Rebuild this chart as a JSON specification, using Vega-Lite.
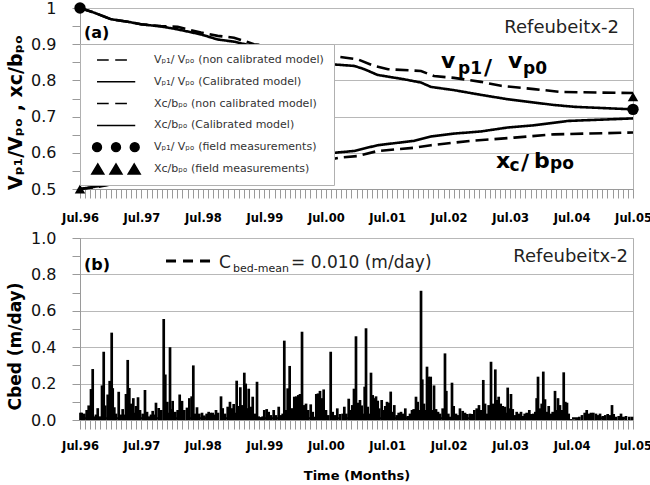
{
  "$schema": "https://vega.github.io/schema/vega-lite/v6.json",
  "padding": {"left": 6, "top": -1, "right": 0, "bottom": 0},
  "config": {
    "font": "DejaVu Sans",
    "view": {"stroke": "#b0b0b0"},
    "axis": {"domainColor": "#9a9a9a", "tickColor": "#9a9a9a", "gridColor": "#b8b8b8", "labelColor": "#111111", "titleColor": "#000000", "labelOverlap": false}
  },
  "datasets": {
    "lines": [
      {"s":"Vnc","m":0,"v":1.0},{"s":"Vnc","m":2.79,"v":0.987},{"s":"Vnc","m":6.05,"v":0.969},{"s":"Vnc","m":9.32,"v":0.962},{"s":"Vnc","m":11.91,"v":0.955},{"s":"Vnc","m":15.82,"v":0.95},{"s":"Vnc","m":19.08,"v":0.948},{"s":"Vnc","m":23.63,"v":0.932},{"s":"Vnc","m":26.89,"v":0.923},{"s":"Vnc","m":30.08,"v":0.918},{"s":"Vnc","m":33.98,"v":0.90},{"s":"Vnc","m":39.84,"v":0.89},{"s":"Vnc","m":47.07,"v":0.872},{"s":"Vnc","m":49.61,"v":0.867},{"s":"Vnc","m":54.29,"v":0.858},{"s":"Vnc","m":57.42,"v":0.84},{"s":"Vnc","m":60.15,"v":0.831},{"s":"Vnc","m":66.6,"v":0.826},{"s":"Vnc","m":69.14,"v":0.812},{"s":"Vnc","m":73.04,"v":0.807},{"s":"Vnc","m":78.31,"v":0.796},{"s":"Vnc","m":82.22,"v":0.785},{"s":"Vnc","m":88.67,"v":0.776},{"s":"Vnc","m":93.94,"v":0.768},{"s":"Vnc","m":108,"v":0.765},
      {"s":"Vc","m":0,"v":1.0},{"s":"Vc","m":2.79,"v":0.987},{"s":"Vc","m":6.05,"v":0.969},{"s":"Vc","m":9.32,"v":0.962},{"s":"Vc","m":11.91,"v":0.955},{"s":"Vc","m":15.82,"v":0.949},{"s":"Vc","m":19.08,"v":0.941},{"s":"Vc","m":23.63,"v":0.927},{"s":"Vc","m":26.89,"v":0.913},{"s":"Vc","m":30.08,"v":0.907},{"s":"Vc","m":39.84,"v":0.875},{"s":"Vc","m":49.67,"v":0.844},{"s":"Vc","m":53.57,"v":0.84},{"s":"Vc","m":55.52,"v":0.831},{"s":"Vc","m":58.14,"v":0.815},{"s":"Vc","m":63.34,"v":0.803},{"s":"Vc","m":66.6,"v":0.794},{"s":"Vc","m":68.55,"v":0.782},{"s":"Vc","m":73.1,"v":0.773},{"s":"Vc","m":78.31,"v":0.76},{"s":"Vc","m":83.53,"v":0.748},{"s":"Vc","m":87.43,"v":0.741},{"s":"Vc","m":92.63,"v":0.732},{"s":"Vc","m":96.54,"v":0.727},{"s":"Vc","m":108,"v":0.72},
      {"s":"Xnc","m":0,"v":0.5},{"s":"Xnc","m":3.46,"v":0.506},{"s":"Xnc","m":6.7,"v":0.515},{"s":"Xnc","m":9.96,"v":0.522},{"s":"Xnc","m":15.17,"v":0.531},{"s":"Xnc","m":21.03,"v":0.54},{"s":"Xnc","m":26.89,"v":0.548},{"s":"Xnc","m":34.04,"v":0.554},{"s":"Xnc","m":41.21,"v":0.561},{"s":"Xnc","m":47.07,"v":0.577},{"s":"Xnc","m":50.97,"v":0.587},{"s":"Xnc","m":54.23,"v":0.591},{"s":"Xnc","m":58.14,"v":0.605},{"s":"Xnc","m":65.29,"v":0.614},{"s":"Xnc","m":68.55,"v":0.621},{"s":"Xnc","m":76.36,"v":0.633},{"s":"Xnc","m":84.82,"v":0.642},{"s":"Xnc","m":92.57,"v":0.651},{"s":"Xnc","m":108,"v":0.656},
      {"s":"Xc","m":0,"v":0.5},{"s":"Xc","m":13.87,"v":0.53},{"s":"Xc","m":33.4,"v":0.57},{"s":"Xc","m":49.61,"v":0.6},{"s":"Xc","m":53.51,"v":0.605},{"s":"Xc","m":58.14,"v":0.621},{"s":"Xc","m":65.23,"v":0.633},{"s":"Xc","m":68.55,"v":0.645},{"s":"Xc","m":73.04,"v":0.653},{"s":"Xc","m":78.31,"v":0.659},{"s":"Xc","m":83.59,"v":0.67},{"s":"Xc","m":88.67,"v":0.676},{"s":"Xc","m":95.31,"v":0.688},{"s":"Xc","m":108,"v":0.695}
    ],
    "cbed": [
      {"m":0.1,"c":0.04},{"m":0.33,"c":0.04},{"m":0.84,"c":0.035},{"m":1.31,"c":0.055},{"m":1.7,"c":0.08},{"m":2.15,"c":0.17},{"m":2.48,"c":0.28},{"m":2.79,"c":0.02},{"m":3.12,"c":0.03},{"m":3.46,"c":0.065},{"m":3.85,"c":0.02},{"m":4.3,"c":0.19},{"m":4.63,"c":0.375},{"m":4.94,"c":0.08},{"m":5.41,"c":0.14},{"m":5.8,"c":0.215},{"m":6.19,"c":0.48},{"m":6.39,"c":0.175},{"m":6.7,"c":0.07},{"m":7.03,"c":0.035},{"m":7.56,"c":0.155},{"m":8.01,"c":0.03},{"m":8.34,"c":0.06},{"m":8.65,"c":0.03},{"m":8.98,"c":0.143},{"m":9.32,"c":0.33},{"m":9.63,"c":0.176},{"m":9.96,"c":0.09},{"m":10.41,"c":0.12},{"m":10.68,"c":0.04},{"m":10.94,"c":0.077},{"m":11.33,"c":0.125},{"m":11.72,"c":0.055},{"m":12.25,"c":0.035},{"m":12.69,"c":0.165},{"m":13.09,"c":0.045},{"m":13.53,"c":0.02},{"m":13.87,"c":0.03},{"m":14.2,"c":0.05},{"m":14.51,"c":0.03},{"m":14.84,"c":0.095},{"m":15.37,"c":0.066},{"m":15.88,"c":0.055},{"m":16.35,"c":0.555},{"m":16.66,"c":0.25},{"m":17.05,"c":0.1},{"m":17.32,"c":0.04},{"m":17.58,"c":0.4},{"m":17.83,"c":0.06},{"m":18.1,"c":0.105},{"m":18.61,"c":0.045},{"m":19.08,"c":0.055},{"m":19.47,"c":0.14},{"m":19.92,"c":0.105},{"m":20.37,"c":0.055},{"m":20.9,"c":0.068},{"m":21.35,"c":0.12},{"m":21.81,"c":0.13},{"m":22.13,"c":0.3},{"m":22.52,"c":0.035},{"m":22.85,"c":0.07},{"m":23.3,"c":0.035},{"m":23.83,"c":0.04},{"m":24.28,"c":0.025},{"m":24.74,"c":0.035},{"m":25.13,"c":0.045},{"m":25.53,"c":0.04},{"m":25.92,"c":0.04},{"m":26.23,"c":0.03},{"m":26.56,"c":0.055},{"m":26.95,"c":0.04},
      {"m":27.54,"c":0.13},{"m":27.87,"c":0.065},{"m":28.32,"c":0.035},{"m":28.85,"c":0.073},{"m":29.29,"c":0.1},{"m":29.69,"c":0.065},{"m":30.02,"c":0.088},{"m":30.33,"c":0.04},{"m":30.6,"c":0.216},{"m":30.92,"c":0.077},{"m":31.31,"c":0.18},{"m":31.64,"c":0.082},{"m":32.09,"c":0.26},{"m":32.36,"c":0.2},{"m":32.61,"c":0.065},{"m":32.95,"c":0.172},{"m":33.34,"c":0.073},{"m":33.73,"c":0.128},{"m":34.12,"c":0.035},{"m":34.57,"c":0.21},{"m":34.9,"c":0.02},{"m":35.29,"c":0.015},{"m":35.68,"c":0.02},{"m":35.99,"c":0.055},{"m":36.46,"c":0.06},{"m":36.85,"c":0.045},{"m":37.3,"c":0.027},{"m":37.83,"c":0.055},{"m":38.28,"c":0.027},{"m":38.81,"c":0.073},{"m":39.25,"c":0.027},{"m":39.59,"c":0.035},{"m":39.9,"c":0.436},{"m":40.23,"c":0.055},{"m":40.56,"c":0.174},{"m":40.95,"c":0.297},{"m":41.34,"c":0.065},{"m":41.85,"c":0.128},{"m":42.24,"c":0.13},{"m":42.63,"c":0.137},{"m":42.97,"c":0.143},{"m":43.36,"c":0.485},{"m":43.75,"c":0.082},{"m":44.14,"c":0.09},{"m":44.53,"c":0.055},{"m":45.06,"c":0.086},{"m":45.45,"c":0.045},{"m":45.76,"c":0.018},{"m":46.15,"c":0.143},{"m":46.48,"c":0.146},{"m":46.87,"c":0.16},{"m":47.2,"c":0.12},{"m":47.59,"c":0.168},{"m":48.04,"c":0.055},{"m":48.49,"c":0.027},{"m":48.96,"c":0.375},{"m":49.35,"c":0.045},{"m":49.8,"c":0.027},{"m":50.25,"c":0.064},{"m":50.78,"c":0.033},{"m":51.3,"c":0.035},{"m":51.62,"c":0.073},{"m":52.01,"c":0.035},{"m":52.48,"c":0.117},{"m":52.87,"c":0.055},{"m":53.18,"c":0.082},{"m":53.51,"c":0.172},{"m":53.9,"c":0.46},{"m":54.29,"c":0.095},{"m":54.68,"c":0.11},
      {"m":55.01,"c":0.08},{"m":55.33,"c":0.035},{"m":55.6,"c":0.183},{"m":55.86,"c":0.504},{"m":56.19,"c":0.073},{"m":56.5,"c":0.035},{"m":56.83,"c":0.26},{"m":57.16,"c":0.137},{"m":57.48,"c":0.12},{"m":57.81,"c":0.13},{"m":58.14,"c":0.106},{"m":58.45,"c":0.064},{"m":58.92,"c":0.11},{"m":59.23,"c":0.055},{"m":59.62,"c":0.077},{"m":59.96,"c":0.1},{"m":60.29,"c":0.095},{"m":60.68,"c":0.156},{"m":61.07,"c":0.045},{"m":61.38,"c":0.082},{"m":61.85,"c":0.027},{"m":62.24,"c":0.04},{"m":62.69,"c":0.045},{"m":63.14,"c":0.035},{"m":63.53,"c":0.064},{"m":64.0,"c":0.022},{"m":64.45,"c":0.035},{"m":64.84,"c":0.055},{"m":65.17,"c":0.06},{"m":65.62,"c":0.128},{"m":65.95,"c":0.1},{"m":66.26,"c":0.055},{"m":66.6,"c":0.71},{"m":66.85,"c":0.223},{"m":67.18,"c":0.09},{"m":67.44,"c":0.055},{"m":67.77,"c":0.293},{"m":68.1,"c":0.238},{"m":68.49,"c":0.238},{"m":68.8,"c":0.055},{"m":69.14,"c":0.19},{"m":69.53,"c":0.06},{"m":69.92,"c":0.045},{"m":70.31,"c":0.035},{"m":70.83,"c":0.064},{"m":71.28,"c":0.366},{"m":71.54,"c":0.16},{"m":71.93,"c":0.035},{"m":72.26,"c":0.018},{"m":72.65,"c":0.205},{"m":72.98,"c":0.077},{"m":73.43,"c":0.035},{"m":73.82,"c":0.027},{"m":74.21,"c":0.064},{"m":74.74,"c":0.05},{"m":75.19,"c":0.04},{"m":75.64,"c":0.033},{"m":76.17,"c":0.035},{"m":76.56,"c":0.033},{"m":77.01,"c":0.055},{"m":77.48,"c":0.064},{"m":77.92,"c":0.082},{"m":78.31,"c":0.055},{"m":78.76,"c":0.22},{"m":79.1,"c":0.09},{"m":79.49,"c":0.035},{"m":79.82,"c":0.082},{"m":80.27,"c":0.32},{"m":80.66,"c":0.09},{"m":81.11,"c":0.278},{"m":81.38,"c":0.11},{"m":81.77,"c":0.128},
      {"m":82.16,"c":0.09},{"m":82.55,"c":0.077},{"m":83.0,"c":0.073},{"m":83.26,"c":0.04},{"m":83.53,"c":0.178},{"m":83.84,"c":0.064},{"m":84.17,"c":0.143},{"m":84.51,"c":0.06},{"m":84.9,"c":0.027},{"m":85.29,"c":0.045},{"m":85.68,"c":0.035},{"m":86.13,"c":0.045},{"m":86.46,"c":0.022},{"m":86.85,"c":0.035},{"m":87.24,"c":0.04},{"m":87.75,"c":0.055},{"m":88.14,"c":0.033},{"m":88.53,"c":0.035},{"m":88.92,"c":0.045},{"m":89.19,"c":0.12},{"m":89.45,"c":0.238},{"m":89.78,"c":0.064},{"m":90.17,"c":0.09},{"m":90.48,"c":0.266},{"m":90.81,"c":0.114},{"m":91.15,"c":0.045},{"m":91.54,"c":0.077},{"m":91.93,"c":0.035},{"m":92.32,"c":0.045},{"m":92.77,"c":0.16},{"m":93.1,"c":0.055},{"m":93.35,"c":0.12},{"m":93.74,"c":0.082},{"m":94.13,"c":0.055},{"m":94.47,"c":0.262},{"m":94.78,"c":0.1},{"m":95.11,"c":0.095},{"m":95.44,"c":0.035},{"m":95.83,"c":0.005},{"m":96.34,"c":0.004},{"m":96.87,"c":0.005},{"m":97.2,"c":0.01},{"m":97.51,"c":0.018},{"m":98.04,"c":0.027},{"m":98.57,"c":0.04},{"m":98.96,"c":0.055},{"m":99.35,"c":0.035},{"m":99.8,"c":0.04},{"m":100.25,"c":0.04},{"m":100.77,"c":0.035},{"m":101.16,"c":0.027},{"m":101.56,"c":0.035},{"m":102.08,"c":0.022},{"m":102.59,"c":0.027},{"m":103.06,"c":0.033},{"m":103.51,"c":0.027},{"m":103.9,"c":0.082},{"m":104.23,"c":0.033},{"m":104.68,"c":0.018},{"m":105.21,"c":0.022},{"m":105.66,"c":0.035},{"m":106.11,"c":0.018},{"m":106.63,"c":0.022},{"m":107.28,"c":0.018},{"m":107.8,"c":0.018}
    ]
  },
  "spacing": 5,
  "vconcat": [
    {
      "width": 553,
      "height": 181,
      "encoding": {
        "x": {"type": "quantitative", "scale": {"domain": [0, 108], "nice": false, "zero": false},
          "axis": {"title": null, "tickCount": 108, "labelExpr": "datum.value % 12 == 0 ? 'Jul.' + ['96','97','98','99','00','01','02','03','04','05'][datum.value / 12] : ''", "labelOverlap": false, "labelFlush": false, "labelDx": -5, "tickSize": 9, "labelPadding": 14, "labelFontSize": 11.5, "labelFontWeight": "bold", "labelColor": "#000000", "grid": false}},
        "y": {"type": "quantitative", "scale": {"domain": [0.5, 1], "nice": false, "zero": false},
          "axis": {"title": "Vₚ₁/Vₚₒ  ,  xc/bₚₒ", "values": [0.5,0.55,0.6,0.65,0.7,0.75,0.8,0.85,0.9,0.95,1], "format": "~g", "labelExpr": "round(datum.value*100) % 10 == 0 ? datum.label : ''", "gridOpacity": {"condition": {"test": "round(datum.value*100) % 10 != 0", "value": 0}, "value": 1}, "tickSize": 8, "labelPadding": 16, "labelFontSize": 16, "labelOverlap": false, "labelFlush": false, "titleFontSize": 19, "titleFontWeight": "bold", "titlePadding": 5, "titleY": 104}}
      },
      "layer": [
        {
          "data": {"name": "lines"},
          "mark": {"type": "line", "color": "black", "strokeWidth": 2.6},
          "encoding": {
            "x": {"field": "m"},
            "y": {"field": "v"},
            "detail": {"field": "s"},
            "strokeDash": {"field": "s", "type": "nominal", "scale": {"domain": ["Vnc", "Vc", "Xnc", "Xc"], "range": [[13, 6], [1, 0], [13, 6], [1, 0]]}, "legend": null}
          }
        },
        {
          "data": {"values": [
            {"s": "Vₚ₁/ Vₚₒ  (non calibrated model)   ", "m": 30, "v": 0.7},
            {"s": "Vₚ₁/ Vₚₒ  (Calibrated model)", "m": 30, "v": 0.7},
            {"s": "Xc/bₚₒ (non calibrated model)", "m": 30, "v": 0.7},
            {"s": "Xc/bₚₒ (Calibrated model)", "m": 30, "v": 0.7},
            {"s": "Vₚ₁/ Vₚₒ  (field measurements)", "m": 30, "v": 0.7},
            {"s": "Xc/bₚₒ (field measurements)", "m": 30, "v": 0.7}
          ]},
          "mark": {"type": "point", "filled": true, "fill": "black", "stroke": "black", "strokeWidth": 2.5, "opacity": 0},
          "encoding": {
            "x": {"field": "m"},
            "y": {"field": "v"},
            "shape": {"field": "s", "type": "nominal",
              "scale": {
                "domain": ["Vₚ₁/ Vₚₒ  (non calibrated model)   ", "Vₚ₁/ Vₚₒ  (Calibrated model)", "Xc/bₚₒ (non calibrated model)", "Xc/bₚₒ (Calibrated model)", "Vₚ₁/ Vₚₒ  (field measurements)", "Xc/bₚₒ (field measurements)"],
                "range": [
                  "M-0.73,0H-0.28M-0.03,0H0.42",
                  "M-0.73,0H0.74",
                  "M-0.73,0H-0.28M-0.03,0H0.42",
                  "M-0.73,0H0.74",
                  "M-0.9,0A0.17,0.17,0,1,0,-0.56,0A0.17,0.17,0,1,0,-0.9,0ZM-0.17,0A0.17,0.17,0,1,0,0.17,0A0.17,0.17,0,1,0,-0.17,0ZM0.55,0A0.17,0.17,0,1,0,0.89,0A0.17,0.17,0,1,0,0.55,0Z",
                  "M-0.93,0.19L-0.7,-0.19L-0.47,0.19ZM-0.23,0.19L0,-0.19L0.23,0.19ZM0.47,0.19L0.7,-0.19L0.93,0.19Z"
                ]
              },
              "legend": {"orient": "none", "legendX": 0, "legendY": 36, "title": null, "symbolSize": 2704, "clipHeight": 20, "rowPadding": 1.8, "padding": 6, "symbolOffset": 3, "labelOffset": 11, "labelFontSize": 11, "labelColor": "#333333", "labelLimit": 400, "fillColor": "white", "strokeColor": "#b0b0b0", "symbolOpacity": 1}
            }
          }
        },
        {
          "data": {"values": [{"m": 0, "v": 1.0}, {"m": 108, "v": 0.72}]},
          "mark": {"type": "point", "shape": "circle", "filled": true, "color": "black", "size": 130, "opacity": 1},
          "encoding": {"x": {"field": "m"}, "y": {"field": "v"}}
        },
        {
          "data": {"values": [{"m": 0, "v": 0.5}, {"m": 108, "v": 0.755}]},
          "mark": {"type": "point", "shape": "triangle-up", "filled": true, "color": "black", "size": 110, "opacity": 1},
          "encoding": {"x": {"field": "m"}, "y": {"field": "v"}}
        },
        {"data": {"values": [{}]}, "mark": {"type": "text", "text": "(a)", "fontSize": 16, "fontWeight": "bold", "align": "left", "baseline": "middle", "color": "black"}, "encoding": {"x": {"datum": 0.78}, "y": {"datum": 0.93}}},
        {"data": {"values": [{}]}, "mark": {"type": "text", "text": "Refeubeitx-2", "fontSize": 18, "align": "right", "baseline": "middle", "color": "#222222"}, "encoding": {"x": {"datum": 105.27}, "y": {"datum": 0.946}}},
        {"data": {"values": [{}]}, "mark": {"type": "text", "text": "v", "fontSize": 22, "fontWeight": "bold", "align": "left", "baseline": "alphabetic", "color": "black"}, "encoding": {"x": {"datum": 70.5}, "y": {"datum": 0.834}}},
        {"data": {"values": [{}]}, "mark": {"type": "text", "text": "p1", "fontSize": 17, "fontWeight": "bold", "align": "left", "baseline": "alphabetic", "color": "black"}, "encoding": {"x": {"datum": 73.82}, "y": {"datum": 0.818}}},
        {"data": {"values": [{}]}, "mark": {"type": "text", "text": "/", "fontSize": 22, "fontWeight": "bold", "align": "left", "baseline": "alphabetic", "color": "black"}, "encoding": {"x": {"datum": 78.9}, "y": {"datum": 0.815}}},
        {"data": {"values": [{}]}, "mark": {"type": "text", "text": "v", "fontSize": 22, "fontWeight": "bold", "align": "left", "baseline": "alphabetic", "color": "black"}, "encoding": {"x": {"datum": 83.59}, "y": {"datum": 0.834}}},
        {"data": {"values": [{}]}, "mark": {"type": "text", "text": "p0", "fontSize": 17, "fontWeight": "bold", "align": "left", "baseline": "alphabetic", "color": "black"}, "encoding": {"x": {"datum": 86.52}, "y": {"datum": 0.818}}},
        {"data": {"values": [{}]}, "mark": {"type": "text", "text": "x", "fontSize": 22, "fontWeight": "bold", "align": "left", "baseline": "alphabetic", "color": "black"}, "encoding": {"x": {"datum": 81.24}, "y": {"datum": 0.558}}},
        {"data": {"values": [{}]}, "mark": {"type": "text", "text": "c", "fontSize": 17, "fontWeight": "bold", "align": "left", "baseline": "alphabetic", "color": "black"}, "encoding": {"x": {"datum": 83.9}, "y": {"datum": 0.5497}}},
        {"data": {"values": [{}]}, "mark": {"type": "text", "text": "/", "fontSize": 22, "fontWeight": "bold", "align": "left", "baseline": "alphabetic", "color": "black"}, "encoding": {"x": {"datum": 86.13}, "y": {"datum": 0.5525}}},
        {"data": {"values": [{}]}, "mark": {"type": "text", "text": "b", "fontSize": 22, "fontWeight": "bold", "align": "left", "baseline": "alphabetic", "color": "black"}, "encoding": {"x": {"datum": 88.67}, "y": {"datum": 0.558}}},
        {"data": {"values": [{}]}, "mark": {"type": "text", "text": "po", "fontSize": 17, "fontWeight": "bold", "align": "left", "baseline": "alphabetic", "color": "black"}, "encoding": {"x": {"datum": 91.79}, "y": {"datum": 0.554}}}
      ]
    },
    {
      "width": 553,
      "height": 182,
      "encoding": {
        "x": {"type": "quantitative", "scale": {"domain": [0, 108], "nice": false, "zero": false},
          "axis": {"title": "Time (Months)", "titleFontSize": 13, "titleFontWeight": "bold", "titlePadding": 18, "tickCount": 108, "labelExpr": "datum.value % 12 == 0 ? 'Jul.' + ['96','97','98','99','00','01','02','03','04','05'][datum.value / 12] : ''", "labelOverlap": false, "labelFlush": false, "labelDx": -5, "tickSize": 9, "labelPadding": 11, "labelFontSize": 11.5, "labelFontWeight": "bold", "labelColor": "#000000", "grid": false}},
        "y": {"type": "quantitative", "scale": {"domain": [0, 1], "nice": false},
          "axis": {"title": "Cbed (m/day)", "values": [0,0.1,0.2,0.3,0.4,0.5,0.6,0.7,0.8,0.9,1], "format": ".1f", "labelExpr": "round(datum.value*10) % 2 == 0 ? datum.label : ''", "gridOpacity": {"condition": {"test": "round(datum.value*10) % 2 != 0", "value": 0}, "value": 1}, "tickSize": 8, "labelPadding": 16, "labelFontSize": 16, "labelOverlap": false, "labelFlush": false, "titleFontSize": 17, "titleFontWeight": "bold", "titlePadding": 6, "titleY": 108}}
      },
      "layer": [
        {
          "data": {"name": "cbed"},
          "mark": {"type": "rule", "color": "black", "strokeWidth": 2.7},
          "encoding": {"x": {"field": "m"}, "y": {"field": "c"}, "y2": {"datum": 0}}
        },
        {"data": {"values": [{}]}, "mark": {"type": "rule", "color": "black", "strokeDash": [7, 5], "strokeWidth": 2}, "encoding": {"x": {"datum": 0}, "x2": {"datum": 108}, "y": {"datum": 0.01}}},
        {"data": {"values": [{}]}, "mark": {"type": "rule", "color": "black", "strokeDash": [10, 7], "strokeWidth": 3}, "encoding": {"x": {"datum": 16.8}, "x2": {"datum": 25.97}, "y": {"datum": 0.874}}},
        {"data": {"values": [{}]}, "mark": {"type": "text", "text": "(b)", "fontSize": 16, "fontWeight": "bold", "align": "left", "baseline": "middle", "color": "black"}, "encoding": {"x": {"datum": 0.78}, "y": {"datum": 0.854}}},
        {"data": {"values": [{}]}, "mark": {"type": "text", "text": "Refeubeitx-2", "fontSize": 18, "align": "right", "baseline": "middle", "color": "#222222"}, "encoding": {"x": {"datum": 107.03}, "y": {"datum": 0.893}}},
        {"data": {"values": [{}]}, "mark": {"type": "text", "text": "C", "fontSize": 17, "align": "left", "baseline": "alphabetic", "color": "#222222"}, "encoding": {"x": {"datum": 27.15}, "y": {"datum": 0.835}}},
        {"data": {"values": [{}]}, "mark": {"type": "text", "text": "bed-mean", "fontSize": 11, "align": "left", "baseline": "alphabetic", "color": "#222222"}, "encoding": {"x": {"datum": 29.9}, "y": {"datum": 0.813}}},
        {"data": {"values": [{}]}, "mark": {"type": "text", "text": "= 0.010 (m/day)", "fontSize": 17, "align": "left", "baseline": "alphabetic", "color": "#222222"}, "encoding": {"x": {"datum": 41.21}, "y": {"datum": 0.835}}}
      ]
    }
  ]
}
